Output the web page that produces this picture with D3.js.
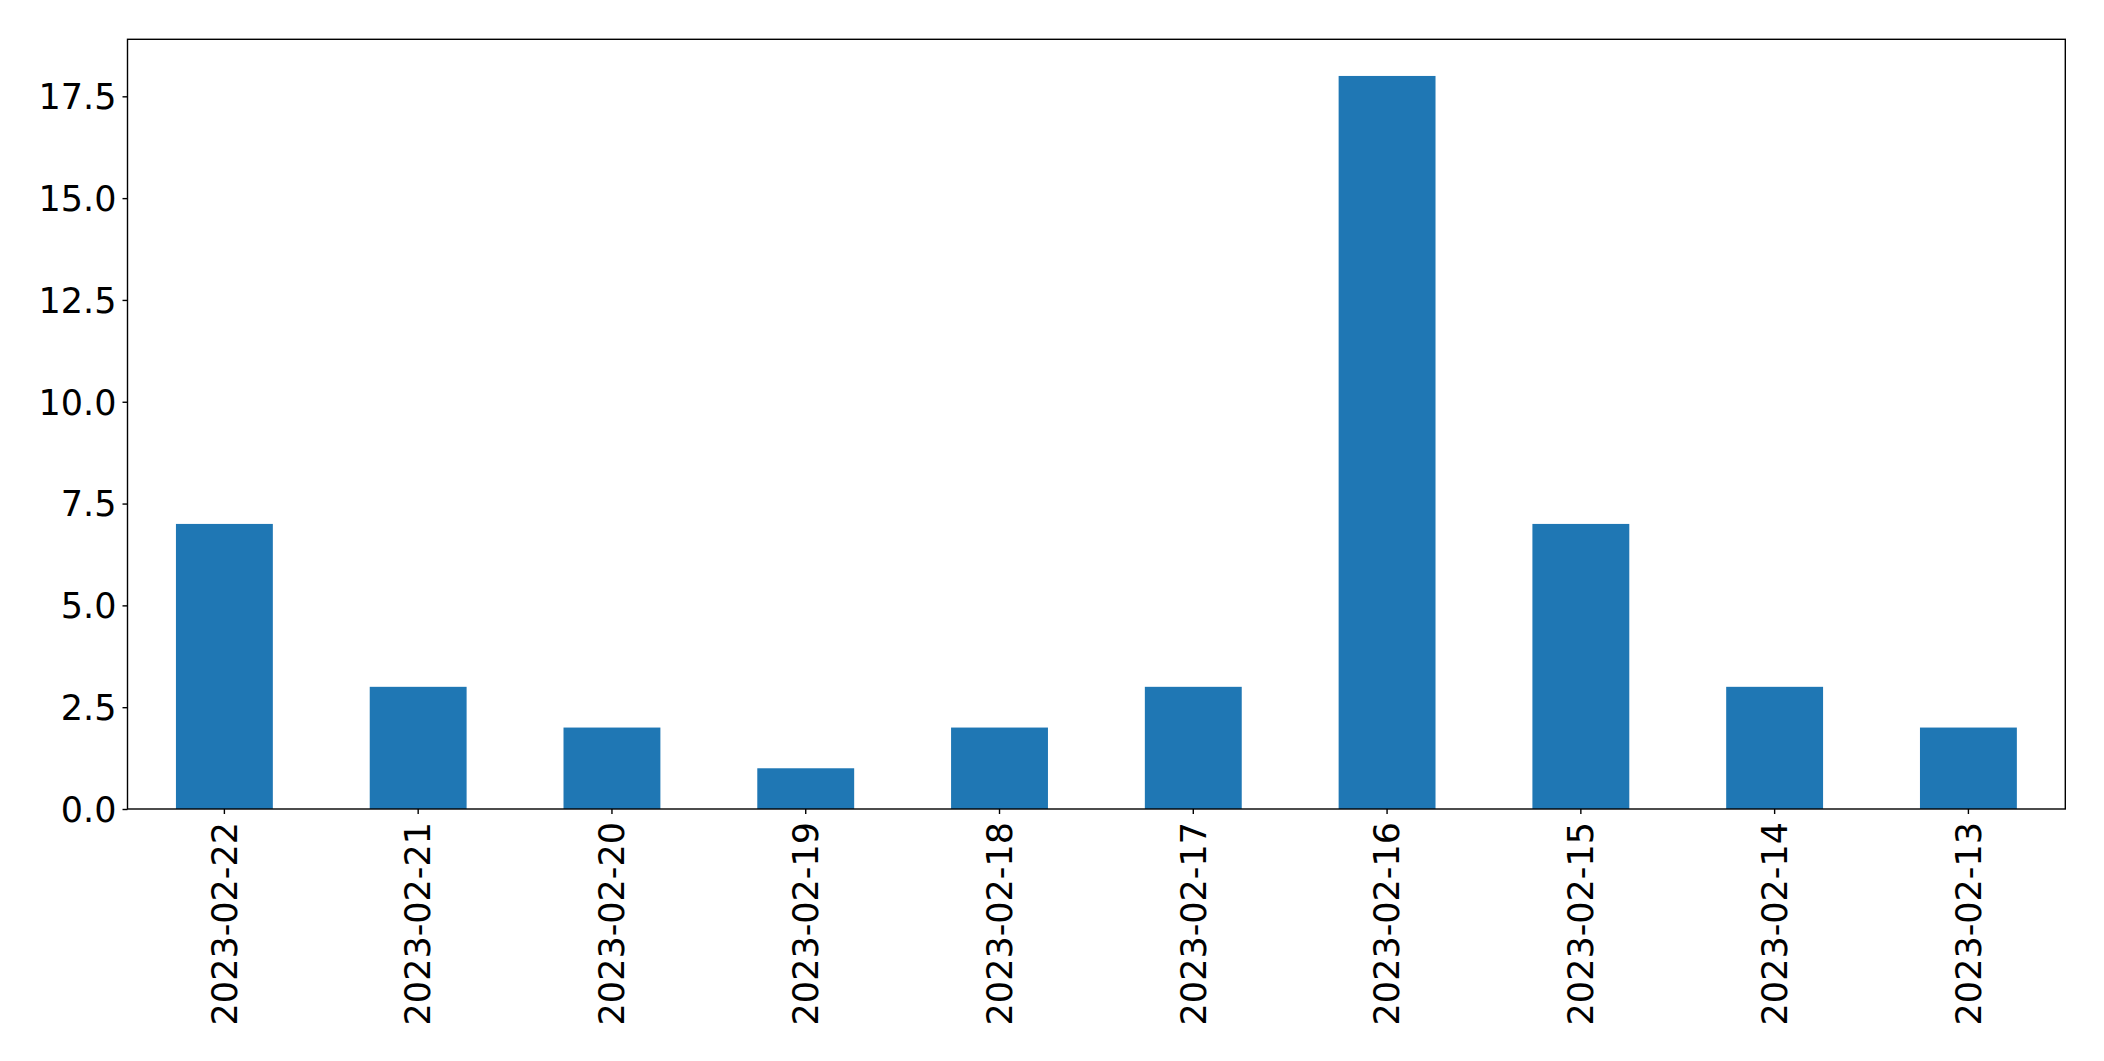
<!DOCTYPE html>
<html><head><meta charset="utf-8">
<script src="https://cdn.jsdelivr.net/npm/d3@7"></script>
<style>html,body{margin:0;padding:0;background:#fff;}svg{display:block;}</style>
</head><body>
<script>
const categories = ["2023-02-22","2023-02-21","2023-02-20","2023-02-19","2023-02-18","2023-02-17","2023-02-16","2023-02-15","2023-02-14","2023-02-13"];
const values = [7,3,2,1,2,3,18,7,3,2];
const yTicks = [0,2.5,5,7.5,10,12.5,15,17.5];

const W = 2104, H = 1061;
const m = {left:127.5, right:W-2065.3, top:39.3, bottom:H-809};
const svg = d3.select("body").append("svg").attr("width",W).attr("height",H);
const iw = W-m.left-m.right, ih = H-m.top-m.bottom;
const g = svg.append("g").attr("transform",`translate(${m.left},${m.top})`);

const x = d3.scaleBand().domain(categories).range([0,iw]).paddingInner(0.5).paddingOuter(0.25);
const y = d3.scaleLinear().domain([0,18.9]).range([ih,0]);

g.selectAll("rect.bar").data(values).join("rect").attr("class","bar")
  .attr("x",(d,i)=>x(categories[i])).attr("width",x.bandwidth())
  .attr("y",d=>y(d)).attr("height",d=>ih-y(d)).attr("fill","#1f77b4");

const font = "'DejaVu Sans', sans-serif";
const fs = "35px";
const ya = g.append("g").call(d3.axisLeft(y).tickValues(yTicks).tickFormat(d3.format(".1f")).tickSize(5).tickPadding(6));
ya.select(".domain").remove();
ya.selectAll("line").attr("stroke","#000").attr("stroke-width",1.4);
ya.selectAll("text").attr("font-family",font).attr("font-size",fs).attr("fill","#000").attr("dy","0.35em");

const xa = g.append("g").attr("transform",`translate(0,${ih})`).call(d3.axisBottom(x).tickSize(5).tickPadding(5));
xa.select(".domain").remove();
xa.selectAll("line").attr("stroke","#000").attr("stroke-width",1.4);
xa.selectAll("text").attr("font-family",font).attr("font-size",fs).attr("fill","#000")
  .attr("transform","rotate(-90)").attr("text-anchor","end").attr("x",-13).attr("y",0).attr("dy","0.35em");

g.append("rect").attr("x",0).attr("y",0).attr("width",iw).attr("height",ih)
  .attr("fill","none").attr("stroke","#000").attr("stroke-width",1.4);
</script>
</body></html>
